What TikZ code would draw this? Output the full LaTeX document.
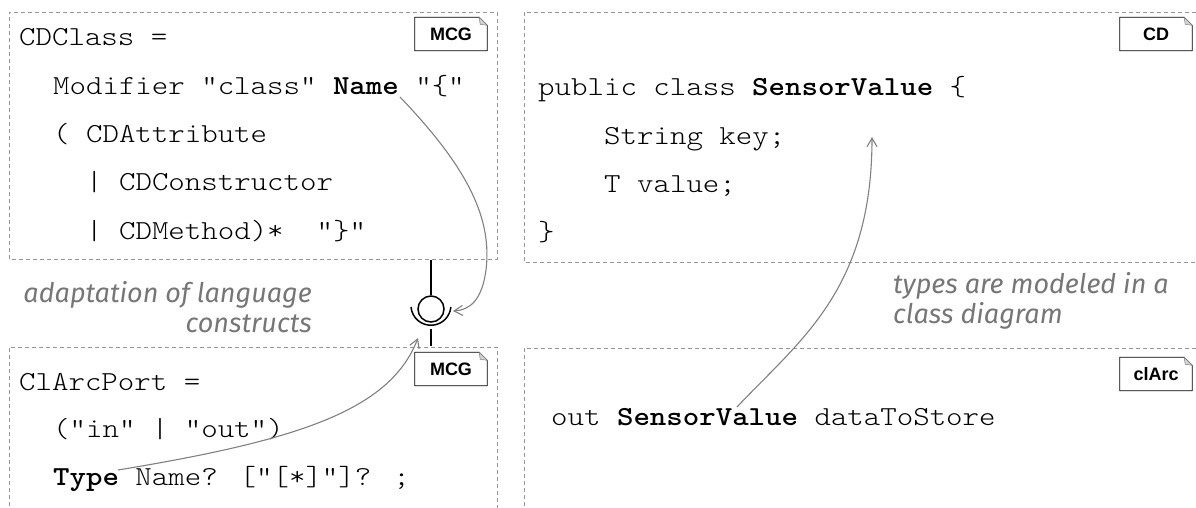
\documentclass[tikz,border=0pt]{standalone}
\usepackage{fontspec}
\newfontfamily\codefont{lmmonolt10-regular}[Extension=.otf, BoldFont=lmmonolt10-bold, FakeStretch=1.14]
\newfontfamily\tagfont{Liberation Sans}
\newfontfamily\notefont{Fira Sans}
\usetikzlibrary{arrows.meta}
\definecolor{dashgray}{RGB}{150,150,150}
\definecolor{arrowgray}{RGB}{128,128,128}
\definecolor{notegray}{RGB}{118,118,118}
\newcommand\tagoutline[1]{%
  \draw[line width=0.8pt] (#1.north west) -- ([xshift=-8pt]#1.north east) -- ([yshift=-8pt]#1.north east) -- (#1.south east) -- (#1.south west) -- cycle;
  \filldraw[fill=gray!35, draw=gray, line width=0.5pt] ([xshift=-8pt]#1.north east) -- ([xshift=-7pt,yshift=-7pt]#1.north east) -- ([yshift=-8pt]#1.north east) -- cycle;}
\begin{document}
\begin{tikzpicture}[x=1pt,y=-1pt,
  region/.style={draw=dashgray, line width=0.9pt, dash pattern=on 4pt off 3pt},
  code/.style={anchor=base west, inner sep=0pt, font=\fontsize{27.5}{30}\selectfont\codefont},
  tagbox/.style={minimum width=72pt, minimum height=33pt, inner sep=0pt, font=\fontsize{18}{20}\selectfont\tagfont\bfseries},
  note/.style={inner sep=0pt, text=notegray, font=\fontsize{27}{30}\selectfont\notefont\itshape},
  link/.style={draw=arrowgray, line width=1.1pt, -{Straight Barb[angle=60:10pt]}},
  port/.style={line width=1.5pt}
]
\useasboundingbox (0,0) rectangle (1196,507);

% regions
\draw[region] (9,259) -- (9,12) -- (497,12) -- (497,259) -- cycle;
\draw[region] (9,520) -- (9,347) -- (497,347) -- (497,520);
\draw[region] (1210,12) -- (524,12) -- (524,262) -- (1210,262);
\draw[region] (1210,348) -- (524,348) -- (524,520);

% tags
\node[tagbox] (tagA) at (451,34) {MCG};
\node[tagbox] (tagB) at (451,369) {MCG};
\node[tagbox] (tagC) at (1156,34) {CD};
\node[tagbox] (tagD) at (1156,374) {clArc};
\tagoutline{tagA}
\tagoutline{tagB}
\tagoutline{tagC}
\tagoutline{tagD}

% MCG grammar CDClass
\node[code] (l1) at (19,45) {CDClass =};
\node[code] (l2) at (53,94) {Modifier "class" \textbf{Name} "\{"};
\node[code] (l3) at (53,142) {( CDAttribute};
\node[code] (l4) at (86,190) {| CDConstructor};
\node[code] (l5) at (86,239) {| CDMethod)*~~"\}"};

% MCG grammar ClArcPort
\node[code] (m1) at (19,390) {ClArcPort =};
\node[code] (m2) at (53,437) {("in" | "out")};
\node[code] (m3) at (53,485) {\textbf{Type} Name? ["[*]"]? ;};

% class diagram
\node[code] (c1) at (538,95) {public class \textbf{SensorValue} \{};
\node[code] (c2) at (604,144) {String key;};
\node[code] (c3) at (604,192) {T value;};
\node[code] (c4) at (538,240) {\}};

% clArc
\node[code] (d1) at (551,425) {out \textbf{SensorValue} dataToStore};

% notes
\node[note, anchor=base east, align=right] (n1) at (312,332) {adaptation of language\\constructs};
\node[note, anchor=base west, align=left] (n2) at (893,323) {types are modeled in a\\class diagram};

% port symbol
\coordinate (portTop) at (431,260);
\node[circle, draw, line width=1.5pt, minimum size=26pt, inner sep=0pt] (port) at (431,309) {};
\coordinate (portBot) at (431,346);
\draw[port] (411,307) arc[start angle=185, end angle=355, radius=20pt];
\draw[port] (portTop) -- (port.north);
\draw[port] (431,329) -- (portBot);

% links
\coordinate (nameRef) at (400,97);
\coordinate (typeRef) at (118,470);
\coordinate (svRef) at (737,407);
\coordinate (cdRef) at (872,137);
\coordinate (socketL) at (418,338);
\coordinate (socketR) at (453,311);
\draw[link] (nameRef) .. controls (470,170) and (492,220) .. (486,270) .. controls (482,300) and (470,310) .. (socketR);
\draw[link] (typeRef) .. controls (300,440) and (390,410) .. (socketL);
\draw[link] (svRef) .. controls (800,340) and (872,290) .. (cdRef);
\end{tikzpicture}
\end{document}
